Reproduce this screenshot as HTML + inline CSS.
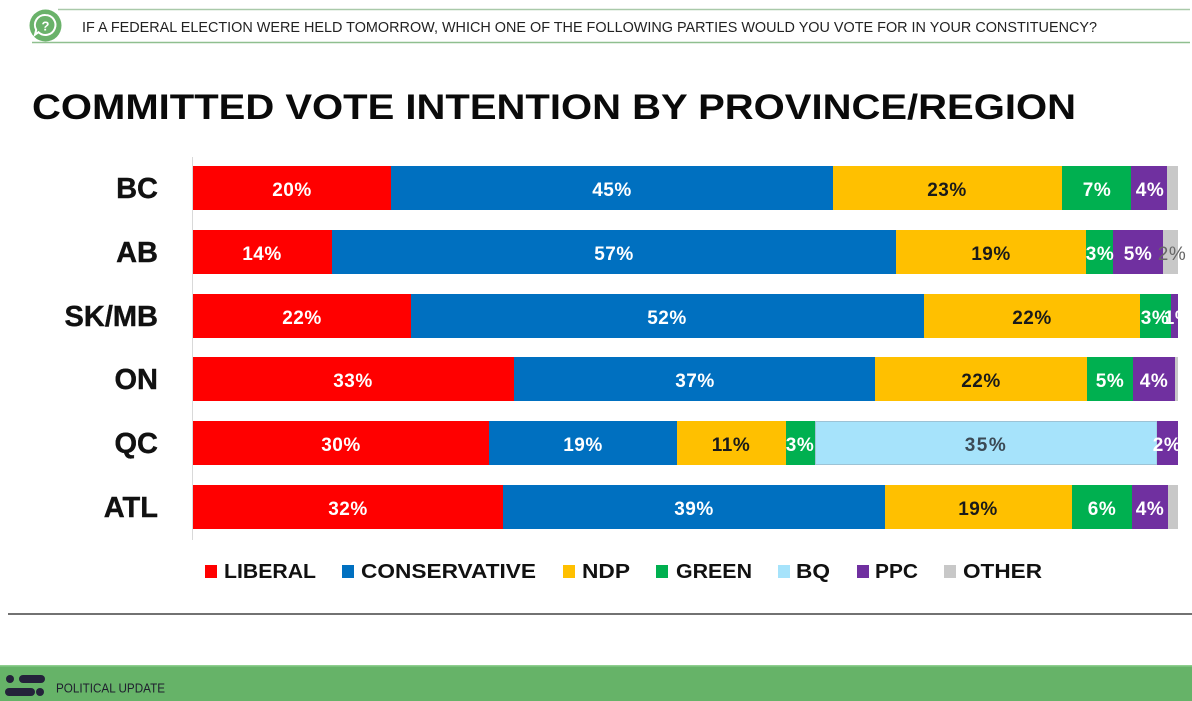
<!DOCTYPE html>
<html><head><meta charset="utf-8"><style>
html,body{margin:0;padding:0;background:#fff;}
svg{display:block;}
text{font-family:"Liberation Sans",sans-serif;}
</style></head><body>
<svg width="1192" height="701" viewBox="0 0 1192 701" xmlns="http://www.w3.org/2000/svg">
<rect width="1192" height="701" fill="#fff"/>
<!-- header -->
<line x1="58" y1="9.5" x2="1190" y2="9.5" stroke="#a9c9a9" stroke-width="1.5"/>
<line x1="32" y1="42.5" x2="1190" y2="42.5" stroke="#8fbf8f" stroke-width="1.5"/>
<circle cx="45.5" cy="25.5" r="16" fill="#6ab26a"/>
<path d="M45.5 15 a10 10 0 1 1 -7 17.2 l-3.5 2.5 l1.2 -4.8 A10 10 0 0 1 45.5 15 z" fill="none" stroke="#fff" stroke-width="2"/>
<text x="45.5" y="30.5" font-size="13" font-weight="bold" fill="#fff" text-anchor="middle">?</text>
<text x="82" y="32" font-size="15" fill="#222" textLength="1015" lengthAdjust="spacingAndGlyphs">IF A FEDERAL ELECTION WERE HELD TOMORROW, WHICH ONE OF THE FOLLOWING PARTIES WOULD YOU VOTE FOR IN YOUR CONSTITUENCY?</text>
<!-- title -->
<text x="32" y="119" font-size="35" font-weight="bold" fill="#0a0a0a" textLength="1044" lengthAdjust="spacingAndGlyphs">COMMITTED VOTE INTENTION BY PROVINCE/REGION</text>
<!-- axis -->
<line x1="192.5" y1="157" x2="192.5" y2="540" stroke="#d9d9d9" stroke-width="1"/>
<!-- row labels -->
<g font-size="29" font-weight="bold" fill="#111" text-anchor="end" stroke="#111" stroke-width="0.4">
<text x="158" y="198">BC</text>
<text x="158" y="262">AB</text>
<text x="158" y="326">SK/MB</text>
<text x="158" y="389">ON</text>
<text x="158" y="453">QC</text>
<text x="158" y="517">ATL</text>
</g>
<!-- bars -->
<g>
<rect x="193" y="166" width="198" height="44" fill="#ff0000"/>
<rect x="391" y="166" width="442" height="44" fill="#0070c0"/>
<rect x="833" y="166" width="229" height="44" fill="#ffc000"/>
<rect x="1062" y="166" width="69" height="44" fill="#00b050"/>
<rect x="1131" y="166" width="36" height="44" fill="#7030a0"/>
<rect x="1167" y="166" width="11" height="44" fill="#c8c8c8"/>

<rect x="193" y="230" width="139" height="44" fill="#ff0000"/>
<rect x="332" y="230" width="564" height="44" fill="#0070c0"/>
<rect x="896" y="230" width="190" height="44" fill="#ffc000"/>
<rect x="1086" y="230" width="27" height="44" fill="#00b050"/>
<rect x="1113" y="230" width="50" height="44" fill="#7030a0"/>
<rect x="1163" y="230" width="15" height="44" fill="#c8c8c8"/>

<rect x="193" y="294" width="218" height="44" fill="#ff0000"/>
<rect x="411" y="294" width="513" height="44" fill="#0070c0"/>
<rect x="924" y="294" width="216" height="44" fill="#ffc000"/>
<rect x="1140" y="294" width="31" height="44" fill="#00b050"/>
<rect x="1171" y="294" width="7" height="44" fill="#7030a0"/>

<rect x="193" y="357" width="321" height="44" fill="#ff0000"/>
<rect x="514" y="357" width="361" height="44" fill="#0070c0"/>
<rect x="875" y="357" width="212" height="44" fill="#ffc000"/>
<rect x="1087" y="357" width="46" height="44" fill="#00b050"/>
<rect x="1133" y="357" width="42" height="44" fill="#7030a0"/>
<rect x="1175" y="357" width="3" height="44" fill="#c8c8c8"/>

<rect x="193" y="421" width="296" height="44" fill="#ff0000"/>
<rect x="489" y="421" width="188" height="44" fill="#0070c0"/>
<rect x="677" y="421" width="109" height="44" fill="#ffc000"/>
<rect x="786" y="421" width="29" height="44" fill="#00b050"/>
<rect x="815.5" y="421.5" width="341.5" height="43" fill="#a6e3fb" stroke="#9cc3d6" stroke-width="1"/>
<rect x="1157" y="421" width="21" height="44" fill="#7030a0"/>

<rect x="193" y="485" width="310" height="44" fill="#ff0000"/>
<rect x="503" y="485" width="382" height="44" fill="#0070c0"/>
<rect x="885" y="485" width="187" height="44" fill="#ffc000"/>
<rect x="1072" y="485" width="60" height="44" fill="#00b050"/>
<rect x="1132" y="485" width="36" height="44" fill="#7030a0"/>
<rect x="1168" y="485" width="10" height="44" fill="#c8c8c8"/>
</g>
<!-- bar labels -->
<g font-size="19" font-weight="bold" text-anchor="middle" letter-spacing="0.5">
<text x="292" y="196" fill="#fff">20%</text>
<text x="612" y="196" fill="#fff">45%</text>
<text x="947" y="196" fill="#1a1a1a">23%</text>
<text x="1097" y="196" fill="#fff">7%</text>
<text x="1150" y="196" fill="#fff">4%</text>

<text x="262" y="260" fill="#fff">14%</text>
<text x="614" y="260" fill="#fff">57%</text>
<text x="991" y="260" fill="#1a1a1a">19%</text>
<text x="1100" y="260" fill="#fff">3%</text>
<text x="1138" y="260" fill="#fff">5%</text>
<text x="1172" y="260" fill="#666" font-weight="normal">2%</text>

<text x="302" y="324" fill="#fff">22%</text>
<text x="667" y="324" fill="#fff">52%</text>
<text x="1032" y="324" fill="#1a1a1a">22%</text>
<text x="1155" y="324" fill="#fff">3%</text>
<text x="1178" y="324" fill="#fff">1%</text>

<text x="353" y="387" fill="#fff">33%</text>
<text x="695" y="387" fill="#fff">37%</text>
<text x="981" y="387" fill="#1a1a1a">22%</text>
<text x="1110" y="387" fill="#fff">5%</text>
<text x="1154" y="387" fill="#fff">4%</text>

<text x="341" y="451" fill="#fff">30%</text>
<text x="583" y="451" fill="#fff">19%</text>
<text x="731" y="451" fill="#1a1a1a">11%</text>
<text x="800" y="451" fill="#fff">3%</text>
<text x="986" y="451" fill="#3b4a55" letter-spacing="1.5">35%</text>
<text x="1167" y="451" fill="#fff">2%</text>

<text x="348" y="515" fill="#fff">32%</text>
<text x="694" y="515" fill="#fff">39%</text>
<text x="978" y="515" fill="#1a1a1a">19%</text>
<text x="1102" y="515" fill="#fff">6%</text>
<text x="1150" y="515" fill="#fff">4%</text>
</g>
<!-- legend -->
<g font-size="20" font-weight="bold" fill="#111">
<rect x="205" y="565" width="12" height="13" fill="#ff0000"/>
<text x="224" y="578" textLength="92" lengthAdjust="spacingAndGlyphs">LIBERAL</text>
<rect x="342" y="565" width="12" height="13" fill="#0070c0"/>
<text x="361" y="578" textLength="175" lengthAdjust="spacingAndGlyphs">CONSERVATIVE</text>
<rect x="563" y="565" width="12" height="13" fill="#ffc000"/>
<text x="582" y="578" textLength="48" lengthAdjust="spacingAndGlyphs">NDP</text>
<rect x="656" y="565" width="12" height="13" fill="#00b050"/>
<text x="676" y="578" textLength="76" lengthAdjust="spacingAndGlyphs">GREEN</text>
<rect x="778" y="565" width="12" height="13" fill="#a6e3fb"/>
<text x="796" y="578" textLength="34" lengthAdjust="spacingAndGlyphs">BQ</text>
<rect x="857" y="565" width="12" height="13" fill="#7030a0"/>
<text x="875" y="578" textLength="43" lengthAdjust="spacingAndGlyphs">PPC</text>
<rect x="944" y="565" width="12" height="13" fill="#c8c8c8"/>
<text x="963" y="578" textLength="79" lengthAdjust="spacingAndGlyphs">OTHER</text>
</g>
<!-- separator -->
<line x1="8" y1="614" x2="1192" y2="614" stroke="#444" stroke-width="1.5"/>
<!-- footer -->
<rect x="0" y="666" width="1192" height="35" fill="#66b368"/>
<rect x="0" y="665" width="1192" height="1.5" fill="#8fcf8f"/>
<g fill="#24223a">
<circle cx="10" cy="679" r="4"/>
<rect x="19" y="675" width="26" height="8" rx="4"/>
<rect x="5" y="688" width="30" height="8" rx="4"/>
<circle cx="40" cy="692" r="4"/>
</g>
<text x="56" y="692.5" font-size="12.5" fill="#1f1f2e" textLength="109" lengthAdjust="spacingAndGlyphs">POLITICAL UPDATE</text>
</svg>
</body></html>
